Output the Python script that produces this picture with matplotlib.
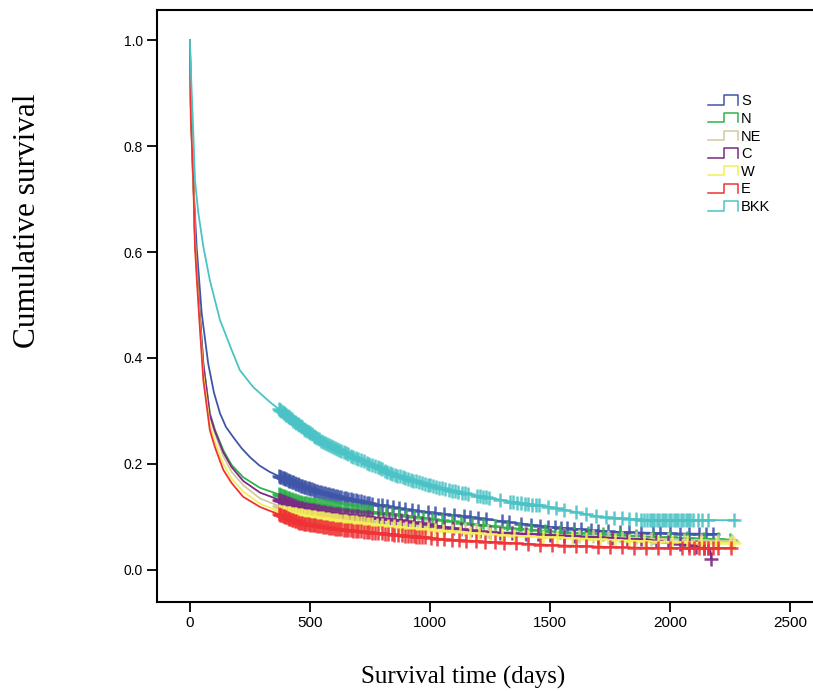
"""Kaplan-Meier style cumulative survival by region (S, N, NE, C, W, E, BKK)."""

import numpy as np
import matplotlib
matplotlib.use("Agg")
import matplotlib.pyplot as plt
from matplotlib.legend_handler import HandlerBase
from matplotlib.lines import Line2D

groups = ["S", "N", "NE", "C", "W", "E", "BKK"]
colors = ["#3f56a8", "#2fb34a", "#d3caa0", "#7a2a84", "#f4ef5c", "#ee3337", "#4bc3c6"]

# survival curves: (days, cumulative survival)
t_s = [0, 4, 12, 28, 49, 76, 100, 125, 150, 180, 215, 250, 290, 333, 361, 458, 542, 650,
       750, 875, 1029, 1167, 1300, 1500, 1650, 1779, 2000, 2200]
s_s = [1.0, 0.87, 0.75, 0.61, 0.485, 0.39, 0.335, 0.296, 0.27, 0.251, 0.23, 0.213, 0.197,
       0.185, 0.179, 0.16, 0.147, 0.135, 0.126, 0.116, 0.107, 0.10, 0.092, 0.081, 0.076,
       0.072, 0.069, 0.068]

t_low = [0, 4, 14, 21, 29, 42, 56, 83, 104, 139, 174, 222, 292, 375, 458, 600, 750, 875,
         1083, 1292, 1500, 1700, 1917, 2100, 2270]
s_n = [1.0, 0.87, 0.75, 0.63, 0.57, 0.48, 0.39, 0.296, 0.265, 0.226, 0.198, 0.175, 0.155,
       0.142, 0.128, 0.118, 0.11, 0.104, 0.092, 0.081, 0.073, 0.068, 0.063, 0.06, 0.057]
s_ne = [1.0, 0.87, 0.75, 0.625, 0.565, 0.475, 0.385, 0.29, 0.258, 0.215, 0.185, 0.16,
        0.135, 0.12, 0.109, 0.099, 0.092, 0.087, 0.079, 0.072, 0.067, 0.063, 0.059, 0.056,
        0.055]
s_w = [1.0, 0.86, 0.745, 0.62, 0.555, 0.463, 0.368, 0.274, 0.242, 0.2, 0.172, 0.148,
       0.125, 0.11, 0.104, 0.094, 0.087, 0.081, 0.073, 0.066, 0.062, 0.058, 0.054, 0.052,
       0.051]
s_e = [1.0, 0.85, 0.736, 0.61, 0.547, 0.453, 0.358, 0.264, 0.232, 0.189, 0.164, 0.138,
       0.119, 0.104, 0.089, 0.078, 0.071, 0.066, 0.057, 0.052, 0.047, 0.044, 0.0415,
       0.0415, 0.0415]

t_c = [0, 4, 14, 21, 29, 42, 56, 83, 104, 139, 174, 222, 292, 375, 458, 600, 750, 875,
       1083, 1221, 1500, 1700, 1917, 2100, 2168, 2172]
s_c = [1.0, 0.87, 0.75, 0.628, 0.567, 0.477, 0.387, 0.293, 0.262, 0.222, 0.194, 0.168,
       0.146, 0.132, 0.117, 0.106, 0.099, 0.094, 0.08, 0.072, 0.066, 0.062, 0.057, 0.045,
       0.04, 0.021]

t_bkk = [0, 5, 13, 21, 35, 56, 83, 125, 174, 208, 264, 333, 375, 450, 542, 650, 750, 850,
         958, 1083, 1200, 1350, 1500, 1708, 1917, 2100, 2280]
s_bkk = [1.0, 0.93, 0.84, 0.736, 0.674, 0.61, 0.547, 0.472, 0.415, 0.377, 0.345, 0.317,
         0.302, 0.275, 0.245, 0.22, 0.20, 0.18, 0.165, 0.15, 0.14, 0.128, 0.119, 0.10,
         0.094, 0.094, 0.094]

# censoring times (days); the early stretch is about equally dense for every group
cens_early = [370, 375, 380, 386, 391, 397, 402, 408, 414, 419, 425, 431, 437, 443, 449,
              456, 462, 468, 475, 481, 488, 495, 502, 509, 516, 523, 531, 538, 546, 554,
              562, 570, 578, 587, 595, 604, 613, 622, 631, 641, 650, 660, 670, 680, 691,
              702, 713, 724, 736, 748, 760]
cens_s = [782, 800, 822, 845, 870, 895, 925, 950, 990, 1020, 1060, 1100, 1140, 1165, 1200,
          1235, 1300, 1330, 1380, 1420, 1460, 1490, 1520, 1545, 1570, 1600, 1630, 1670,
          1700, 1740, 1790, 1830, 1880, 1930, 1960, 2000, 2040, 2080, 2120, 2150, 2180]
cens_n = [790, 815, 840, 870, 900, 935, 970, 1010, 1050, 1090, 1130, 1175, 1220, 1270,
          1320, 1370, 1420, 1480, 1540, 1600, 1660, 1720, 1790, 1860, 1930, 2000, 2070,
          2140, 2200, 2250]
cens_ne = [795, 825, 850, 880, 915, 950, 985, 1020, 1060, 1100, 1145, 1190, 1240, 1290,
           1340, 1395, 1450, 1500, 1560, 1620, 1680, 1740, 1800, 1860, 1920, 1990, 2060,
           2130, 2200, 2260]
cens_c = [785, 805, 830, 855, 880, 905, 935, 965, 995, 1025, 1060, 1095, 1130, 1170, 1210,
          1250, 1290, 1340, 1400, 1450, 1500, 1560, 1600, 1650, 1700, 1760, 1820, 1880,
          1940, 1990, 2040, 2080, 2110, 2140, 2160, 2172]
cens_w = [780, 800, 825, 850, 875, 900, 930, 960, 990, 1020, 1055, 1090, 1125, 1165, 1205,
          1250, 1300, 1350, 1410, 1470, 1530, 1590, 1650, 1710, 1770, 1830, 1890, 1950,
          2010, 2070, 2130, 2190, 2250, 2265]
cens_e = [772, 785, 800, 812, 826, 840, 852, 866, 885, 897, 908, 920, 932, 944, 956, 968,
          980, 1005, 1030, 1060, 1090, 1120, 1150, 1190, 1230, 1270, 1310, 1360, 1410,
          1460, 1510, 1560, 1610, 1650, 1700, 1750, 1800, 1850, 1900, 1950, 2000, 2050,
          2080, 2100, 2120, 2140, 2160, 2180, 2200, 2255]
cens_bkk = [770, 782, 792, 801, 812, 822, 833, 843, 854, 864, 875, 886, 897, 908, 920, 931,
            943, 954, 966, 978, 990, 1002, 1014, 1026, 1038, 1051, 1064, 1078, 1091, 1105,
            1118, 1132, 1146, 1160, 1195, 1210, 1222, 1235, 1248, 1290, 1335, 1348, 1362,
            1380, 1395, 1410, 1425, 1440, 1455, 1490, 1525, 1560, 1610, 1650, 1690, 1735,
            1765, 1800, 1830, 1860, 1878, 1890, 1903, 1915, 1925, 1935, 1945, 1955, 1965,
            1975, 1985, 1995, 2005, 2015, 2025, 2035, 2045, 2055, 2065, 2075, 2085, 2095,
            2115, 2135, 2160, 2268]

curves = [(t_s, s_s, cens_s), (t_low, s_n, cens_n), (t_low, s_ne, cens_ne),
          (t_c, s_c, cens_c), (t_low, s_w, cens_w), (t_low, s_e, cens_e),
          (t_bkk, s_bkk, cens_bkk)]


class StepHandler(HandlerBase):
    """Legend key drawn as a small step, like the survival plot software does."""

    def create_artists(self, legend, orig_handle, xdescent, ydescent, width, height,
                       fontsize, trans):
        xs = np.array([0, 0.55, 0.55, 1, 1]) * width - xdescent
        ys = np.array([0, 0, 1, 1, 0]) * height - ydescent
        return [Line2D(xs, ys, color=orig_handle.get_color(), lw=1.1, transform=trans)]


plt.rcParams["font.family"] = ["Liberation Sans", "DejaVu Sans"]
fig = plt.figure(figsize=(8.13, 6.91), dpi=100)
ax = fig.add_axes([0.193, 0.1288, 0.807, 0.8567])

handles = []
for name, col, (t, s, cens) in zip(groups, colors, curves):
    ln, = ax.plot(t, s, color=col, lw=1.3, label=name)
    ct = np.array(cens_early + cens)
    ax.plot(ct, np.interp(ct, t, s), "+", color=col, ms=10, mew=1.8, alpha=0.9)
    handles.append(ln)

ax.set_xlim(-137.5, 2596)
ax.set_ylim(-0.0604, 1.0566)
ax.set_xticks([0, 500, 1000, 1500, 2000, 2500])
ax.set_yticks([0.0, 0.2, 0.4, 0.6, 0.8, 1.0])
ax.set_yticklabels(["0.0", "0.2", "0.4", "0.6", "0.8", "1.0"])
ax.tick_params(direction="out", length=7, width=1.3, pad=3)
ax.tick_params(axis="x", labelsize=11)
ax.tick_params(axis="y", labelsize=10)
ax.spines["right"].set_visible(False)
for side in ["left", "bottom", "top"]:
    ax.spines[side].set_linewidth(1.5)

ax.legend(handles=handles, labels=groups, handler_map={Line2D: StepHandler()},
          loc="upper left", bbox_to_anchor=(0.8295, 0.87), frameon=False,
          fontsize=10.5, handlelength=2.0, handleheight=0.6, handletextpad=0.25,
          labelspacing=0.25, borderpad=0)

fig.text(0.034, 0.68, "Cumulative survival", rotation=90, ha="center", va="center",
         family="Liberation Serif", fontsize=22.5)
fig.text(0.57, 0.019, "Survival time (days)", ha="center", va="center",
         family="Liberation Serif", fontsize=18)

fig.savefig("out.png", dpi=100)
